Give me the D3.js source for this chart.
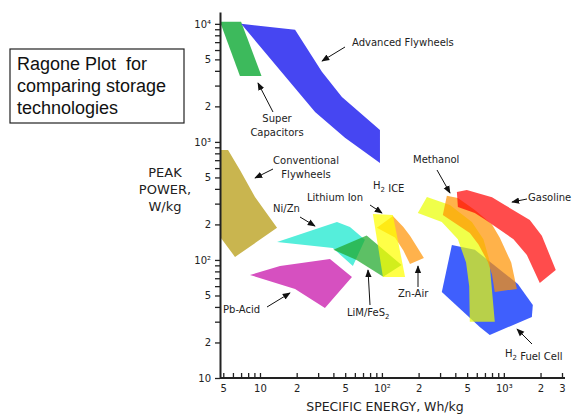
<!DOCTYPE html>
<html lang="en">
<head>
<meta charset="UTF-8" />
<title>Ragone Plot</title>
<style>
  body { margin: 0; background: #fff; }
  .lbl { font-family: "DejaVu Sans", sans-serif; font-size: 10px; fill: #222; }
  .axis text { font-family: "DejaVu Sans", sans-serif; font-size: 10px; fill: #222; }
  .axis line { stroke: #222; stroke-width: 1.3px; }
  .axis path { stroke: #222; stroke-width: 2px; }
</style>
</head>
<body>
<svg width="572" height="415"></svg>
<script src="https://d3js.org/d3.v7.min.js"></script>
<script>
// region outlines, [specific energy Wh/kg, peak power W/kg]
const superCapacitors = [[4.7, 10400], [7.0, 10400], [10.3, 3620], [6.85, 3620]];
const advancedFlywheels = [[7.0, 10000], [19.4, 8900], [32.2, 3920], [47, 2400], [96.4, 1264],
  [96.4, 664], [49.8, 1082], [28.3, 1795]];
const conventionalFlywheels = [[4.7, 855], [5.47, 855], [6.85, 579], [9.1, 342], [13.8, 187],
  [6.24, 106], [4.7, 157]];
const niZn = [[13.8, 142], [42.8, 210], [54.7, 190], [72.6, 148], [57.8, 89], [39.6, 126]];
const pbAcid = [[8.28, 74.6], [14.6, 89], [37.5, 102], [56.8, 71.8], [34.1, 39.2], [19.4, 56.8]];
const limFeS2 = [[40, 122], [75, 161], [145, 90.7], [102.6, 72], [62, 100]];
const znAir = [[91, 187], [123, 236], [150, 190], [170, 160], [221, 104], [170, 92.5], [150, 120], [128, 155]];
const lithiumIon = [[84.3, 245], [123, 240], [155, 71.8], [102, 71.8]];
const h2FuelCell = [[375, 134], [578, 122], [1303, 62.7], [1729, 41.6], [1698, 32.9],
  [767, 23.1], [635, 27.1], [310, 53.6]];
const h2IceBand = [[197, 250], [234, 342], [361, 292], [547, 210], [680, 150], [760, 100],
  [843, 29.9], [526, 29.9], [520, 60], [490, 95], [420, 150], [310, 210]];
const methanol = [[341, 349], [420, 335], [578, 265], [800, 200], [927, 154], [1150, 95],
  [1279, 56.8], [843, 53.6], [800, 75], [740, 96.1], [620, 135], [526, 169], [316, 240]];
const gasoline = [[412, 377], [497, 392], [800, 340], [1019, 292], [1633, 218], [2050, 160],
  [2667, 82.3], [1972, 63.8], [1545, 110], [1200, 150], [927, 180], [700, 220], [578, 250], [420, 281]];

const xTicks = [5, 6, 7, 8, 9, 10, 20, 30, 40, 50, 60, 70, 80, 90, 100, 200, 300, 400, 500,
  600, 700, 800, 900, 1000, 2000, 3000];
const xTickLabels = { 5: "5", 10: "10", 20: "2", 50: "5", 100: "10²", 200: "2", 500: "5",
  1000: "10³", 2000: "2", 3000: "3" };
const yTicks = [10, 20, 30, 40, 50, 60, 70, 80, 90, 100, 200, 300, 400, 500, 600, 700, 800, 900,
  1000, 2000, 3000, 4000, 5000, 6000, 7000, 8000, 9000, 10000];
const yTickLabels = { 10: "10", 20: "2", 50: "5", 100: "10²", 200: "2", 500: "5", 1000: "10³",
  2000: "2", 5000: "5", 10000: "10⁴" };

const svg = d3.select("svg");
svg.append("rect").attr("width", 572).attr("height", 415).attr("fill", "#fff");

const x = d3.scaleLog().domain([4.7, 3000]).range([220, 562]);
const y = d3.scaleLog().domain([10, 12600]).range([378, 12]);

const line = d3.line().x((d) => x(d[0])).y((d) => y(d[1]));

// drawing order matters for the translucent overlaps
const regions = [
  { pts: conventionalFlywheels, fill: "#c9b54f", op: 1 },
  { pts: superCapacitors, fill: "#3dba5c", op: 1 },
  { pts: advancedFlywheels, fill: "#4646f2", op: 1 },
  { pts: niZn, fill: "#55eedb", op: 1 },
  { pts: pbAcid, fill: "#d650c0", op: 1 },
  { pts: limFeS2, fill: "#1ea82a", op: 0.72 },
  { pts: znAir, fill: "#ff9200", op: 0.7 },
  { pts: lithiumIon, fill: "#ffff00", op: 0.72 },
  { pts: h2FuelCell, fill: "#3f5ffd", op: 1 },
  { pts: h2IceBand, fill: "#eaff00", op: 0.71 },
  { pts: methanol, fill: "#ff9200", op: 0.71 },
  { pts: gasoline, fill: "#ff0000", op: 0.7 },
];

svg.append("g")
  .selectAll("path")
  .data(regions)
  .join("path")
  .attr("d", (d) => line(d.pts) + "Z")
  .attr("fill", (d) => d.fill)
  .attr("fill-opacity", (d) => d.op);

// axes
const xAxis = svg.append("g")
  .attr("class", "axis")
  .attr("transform", "translate(0,378)")
  .call(d3.axisBottom(x).tickValues(xTicks).tickSizeInner(-5).tickSizeOuter(0).tickPadding(7)
    .tickFormat((d) => xTickLabels[d] || ""));
xAxis.select(".domain").attr("d", "M220,0H565");

const yAxis = svg.append("g")
  .attr("class", "axis")
  .attr("transform", "translate(220,0)")
  .call(d3.axisLeft(y).tickValues(yTicks).tickSize(5).tickSizeOuter(0).tickPadding(4)
    .tickFormat((d) => yTickLabels[d] || ""));

// annotations
svg.append("defs").append("marker")
  .attr("id", "ah")
  .attr("viewBox", "0 0 10 10")
  .attr("refX", 9).attr("refY", 5)
  .attr("markerWidth", 8).attr("markerHeight", 8)
  .attr("markerUnits", "userSpaceOnUse")
  .attr("orient", "auto")
  .append("path").attr("d", "M0,1L10,5L0,9Z").attr("fill", "#111");

const labels = [
  { lines: ["Advanced Flywheels"], x: 352, y: 46, anchor: "start" },
  { lines: ["Super", "Capacitors"], x: 277, y: 122, anchor: "middle" },
  { lines: ["Conventional", "Flywheels"], x: 306, y: 164, anchor: "middle" },
  { lines: ["Ni/Zn"], x: 273, y: 212, anchor: "start" },
  { lines: ["Lithium Ion"], x: 307, y: 201, anchor: "start" },
  { lines: ["Methanol"], x: 413, y: 163, anchor: "start" },
  { lines: ["Gasoline"], x: 528, y: 201, anchor: "start" },
  { lines: ["Zn-Air"], x: 398, y: 297, anchor: "start" },
  { lines: ["Pb-Acid"], x: 223, y: 313, anchor: "start" },
];

labels.forEach((l) => {
  const t = svg.append("text").attr("class", "lbl").attr("text-anchor", l.anchor);
  l.lines.forEach((s, i) => {
    t.append("tspan").attr("x", l.x).attr("y", l.y + i * 13.5).text(s);
  });
});

function subLabel(x0, y0, parts) {
  const t = svg.append("text").attr("class", "lbl").attr("x", x0).attr("y", y0);
  parts.forEach((p) => {
    if (p.sub) {
      t.append("tspan").attr("font-size", "7px").attr("dy", 3).text(p.sub);
      t.append("tspan").attr("dy", -3).text("");
    } else {
      t.append("tspan").text(p.t);
    }
  });
}
subLabel(373, 189, [{ t: "H" }, { sub: "2" }, { t: " ICE" }]);
subLabel(347, 316, [{ t: "LiM/FeS" }, { sub: "2" }]);
subLabel(505, 357, [{ t: "H" }, { sub: "2" }, { t: " Fuel Cell" }]);

const arrows = [
  [345, 47, 322, 61],
  [273, 112, 258, 83],
  [273, 169, 255, 178],
  [300, 217, 315, 226],
  [370, 205, 382, 213],
  [437, 170, 450, 193],
  [527, 199, 512, 202],
  [418, 287, 418, 266],
  [370, 305, 368, 270],
  [267, 307, 290, 293],
  [532, 344, 517, 329],
];
svg.append("g")
  .selectAll("line")
  .data(arrows)
  .join("line")
  .attr("x1", (d) => d[0]).attr("y1", (d) => d[1])
  .attr("x2", (d) => d[2]).attr("y2", (d) => d[3])
  .attr("stroke", "#111")
  .attr("stroke-width", 1)
  .attr("marker-end", "url(#ah)");

// axis titles
const yTitle = svg.append("text")
  .attr("font-family", "DejaVu Sans, sans-serif")
  .attr("font-size", "13px")
  .attr("fill", "#222")
  .attr("text-anchor", "middle");
["PEAK", "POWER,", "W/kg"].forEach((s, i) => {
  yTitle.append("tspan").attr("x", 165).attr("y", 177 + i * 17).text(s);
});

svg.append("text")
  .attr("x", 385).attr("y", 411)
  .attr("text-anchor", "middle")
  .attr("font-family", "DejaVu Sans, sans-serif")
  .attr("font-size", "12.5px")
  .attr("fill", "#222")
  .text("SPECIFIC ENERGY, Wh/kg");

// title box
svg.append("rect")
  .attr("x", 10).attr("y", 49).attr("width", 174).attr("height", 74)
  .attr("fill", "none").attr("stroke", "#222").attr("stroke-width", 1.2);
const title = svg.append("text")
  .attr("font-family", "Liberation Sans, Arial, sans-serif")
  .attr("font-size", "18px")
  .attr("fill", "#111");
["Ragone Plot  for", "comparing storage", "technologies"].forEach((s, i) => {
  title.append("tspan").attr("x", 17).attr("y", 70 + i * 22).attr("xml:space", "preserve").text(s);
});
</script>
</body>
</html>
